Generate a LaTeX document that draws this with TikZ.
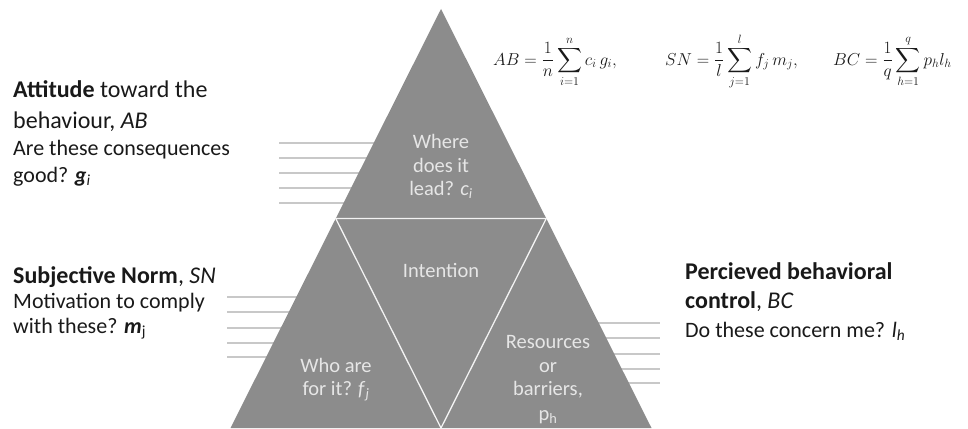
\documentclass[tikz,border=0pt]{standalone}
\usepackage{amsmath}
\usepackage{fontspec}
\setmainfont{Carlito}
\definecolor{tri}{RGB}{140,140,140}
\definecolor{tritext}{RGB}{230,230,230}
\definecolor{hline}{RGB}{200,200,200}
\definecolor{ink}{RGB}{25,25,25}
\begin{document}
\begin{tikzpicture}[x=1pt,y=-1pt,
  lab/.style={anchor=base west, inner sep=0pt, text=ink},
  ttl/.style={lab, font=\fontsize{24}{29}\selectfont},
  body/.style={lab, font=\fontsize{22}{27}\selectfont},
  intext/.style={anchor=base, inner sep=0pt, text=tritext, font=\fontsize{20.5}{24}\selectfont},
  eq/.style={anchor=base west, inner sep=0pt, text=ink, font=\fontsize{17}{20}\selectfont},
  rule/.style={draw=hline, line width=1.2pt},
  sep/.style={draw=white!90!tri, line width=1.3pt}]
\useasboundingbox (0,0) rectangle (968,428);

% guide lines (behind the triangle)
\foreach \y in {143,158,173,188,203} \draw[rule] (279,\y) -- (390,\y);
\foreach \y in {297,312,328,343,357} \draw[rule] (227,\y) -- (310,\y);
\foreach \y in {323,338,354,369,383} \draw[rule] (580,\y) -- (660,\y);

% triangle
\coordinate (apex) at (441,9);
\coordinate (bl) at (230.5,428);
\coordinate (br) at (651.5,428);
\coordinate (ml) at (335.75,218.5);
\coordinate (mr) at (546.25,218.5);
\coordinate (mb) at (441,428);
\fill[tri] (apex) -- (bl) -- (br) -- cycle;
\draw[sep] (ml) -- (mr) -- (mb) -- cycle;

% texts inside the triangle
\node[intext] (t1) at (441,148) {Where};
\node[intext] (t2) at (441,172) {does it};
\node[intext] (t3) at (441,195) {lead? \textit{c}\textsubscript{\itshape i}};
\node[intext] (int) at (441,277) {Intention};
\node[intext] (w1) at (336,372) {Who are};
\node[intext] (w2) at (336,395) {for it? \textit{f}\textsubscript{\itshape j}};
\node[intext] (r1) at (548,348) {Resources};
\node[intext] (r2) at (548,372) {or};
\node[intext] (r3) at (548,395) {barriers,};
\node[intext] (r4) at (548,420) {p\textsubscript{h}};

% left labels
\node[ttl] (a1) at (13,97) {\textbf{Attitude} toward the};
\node[ttl] (a2) at (13,128) {behaviour, \textit{AB}};
\node[body] (a3) at (13,155) {Are these consequences};
\node[body] (a4) at (13,182) {good? \textit{\textbf{g}}\textsubscript{\itshape i}};
\node[ttl] (s1) at (13,283) {\textbf{Subjective Norm}, \textit{SN}};
\node[body] (s2) at (13,308) {Motivation to comply};
\node[body] (s3) at (13,333) {with these? \textit{\textbf{m}}\textsubscript{j}};
% right labels
\node[ttl] (p1) at (685,279) {\textbf{Percieved behavioral}};
\node[ttl] (p2) at (685,308) {\textbf{control}, \textit{BC}};
\node[body] (p3) at (685,337) {Do these concern me? \textit{l}\textsubscript{\itshape h}};

% formulas
\node[eq] (fab) at (493,65) {$AB = \dfrac{1}{n}\displaystyle\sum_{i=1}^{n} c_i\, g_i,$};
\node[eq] (fsn) at (665,65) {$SN = \dfrac{1}{l}\displaystyle\sum_{j=1}^{l} f_j\, m_j,$};
\node[eq] (fbc) at (833,65) {$BC = \dfrac{1}{q}\displaystyle\sum_{h=1}^{q} p_h l_h$};
\end{tikzpicture}
\end{document}
